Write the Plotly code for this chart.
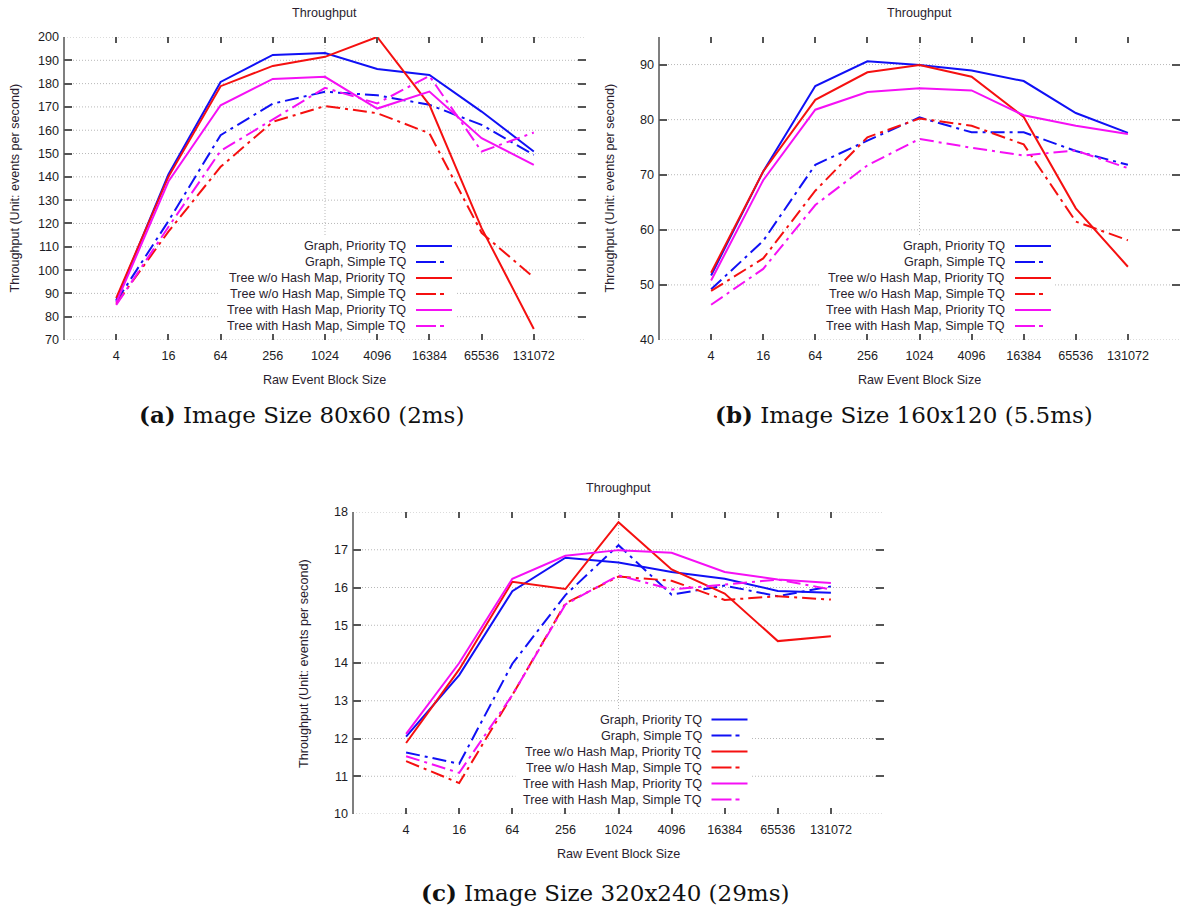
import plotly.graph_objects as go

# ---------------------------------------------------------------- data
block_sizes = ["4", "16", "64", "256", "1024", "4096", "16384", "65536", "131072"]

series_names = [
    "Graph, Priority TQ",
    "Graph, Simple TQ",
    "Tree w/o Hash Map, Priority TQ",
    "Tree w/o Hash Map, Simple TQ",
    "Tree with Hash Map, Priority TQ",
    "Tree with Hash Map, Simple TQ",
]

# (a) Image Size 80x60
a_graph_priority = [87, 141, 180.7, 192.3, 193.1, 186.3, 183.7, 168.0, 150.9]
a_graph_simple = [86.5, 121, 157.9, 171.4, 176.5, 175.0, 170.9, 162.3, 149.4]
a_tree_nohash_priority = [88, 140, 178.9, 187.6, 191.5, 200.0, 170.9, 118.0, 74.7]
a_tree_nohash_simple = [85.5, 116.5, 144.3, 163.6, 170.4, 167.3, 158.7, 116.0, 96.8]
a_tree_hash_priority = [86, 138, 170.7, 182.0, 182.9, 169.3, 176.6, 156.6, 145.1]
a_tree_hash_simple = [85, 118.5, 151.1, 164.5, 178.2, 171.5, 183.3, 150.9, 159.0]

# (b) Image Size 160x120
b_graph_priority = [51.7, 70.6, 86.1, 90.6, 89.9, 88.9, 87.0, 81.2, 77.6]
b_graph_simple = [49.2, 58.0, 71.8, 76.2, 80.4, 77.7, 77.7, 74.3, 71.8]
b_tree_nohash_priority = [52.2, 70.6, 83.6, 88.6, 89.9, 87.8, 80.5, 63.9, 53.3]
b_tree_nohash_simple = [48.9, 54.8, 67.1, 76.8, 80.2, 78.9, 75.5, 61.5, 58.1]
b_tree_hash_priority = [50.8, 69.0, 81.8, 85.0, 85.7, 85.3, 80.8, 78.9, 77.4]
b_tree_hash_simple = [46.4, 52.9, 64.5, 71.7, 76.5, 74.9, 73.5, 74.4, 71.2]

# (c) Image Size 320x240
c_graph_priority = [12.05, 13.68, 15.90, 16.79, 16.66, 16.41, 16.23, 15.91, 15.86]
c_graph_simple = [11.63, 11.33, 13.98, 15.80, 17.12, 15.81, 16.05, 15.77, 16.03]
c_tree_nohash_priority = [11.88, 13.83, 16.15, 15.96, 17.73, 16.48, 15.84, 14.58, 14.71]
c_tree_nohash_simple = [11.40, 10.82, 13.15, 15.58, 16.29, 16.18, 15.67, 15.77, 15.68]
c_tree_hash_priority = [12.12, 14.00, 16.23, 16.84, 16.99, 16.92, 16.41, 16.21, 16.12]
c_tree_hash_simple = [11.53, 11.09, 13.15, 15.55, 16.32, 15.95, 16.08, 16.21, 15.95]

captions = [
    "<b>(a)</b> Image Size 80x60 (2ms)",
    "<b>(b)</b> Image Size 160x120 (5.5ms)",
    "<b>(c)</b> Image Size 320x240 (29ms)",
]

# ---------------------------------------------------------------- styling
W, H = 1182, 909
BLUE, RED, MAGENTA = "#1010f5", "#f51010", "#f510f5"
series_colors = [BLUE, BLUE, RED, RED, MAGENTA, MAGENTA]
DASHDOT = "14px,5px,3px,5px"
series_dash = ["solid", DASHDOT] * 3

SANS = "Liberation Sans, Arial, sans-serif"
SERIF = "DejaVu Serif, serif"
TEXT = "#2a1d2e"
TICKTEXT = "#1c1c24"
AXIS = "#555555"
GRID = "#b8b8b8"
GRIDDASH = "1px,2px"
SMALL = 12.6


def px(x):
    return x / W


def py(y):
    return 1 - y / H


# plot boxes in pixels: left, right, top, bottom; key anchor (label right edge, first row y)
panels = [
    dict(box=(64, 586, 37, 340), yrange=[70, 200], dtick=10, legend=(408, 246),
         data=[a_graph_priority, a_graph_simple, a_tree_nohash_priority,
               a_tree_nohash_simple, a_tree_hash_priority, a_tree_hash_simple],
         caption_xy=(301, 415)),
    dict(box=(659, 1180, 37, 340), yrange=[40, 95], dtick=10, legend=(1007, 246),
         data=[b_graph_priority, b_graph_simple, b_tree_nohash_priority,
               b_tree_nohash_simple, b_tree_hash_priority, b_tree_hash_simple],
         caption_xy=(904, 415)),
    dict(box=(353, 884, 512, 814), yrange=[10, 18], dtick=1, legend=(703.5, 719.5),
         data=[c_graph_priority, c_graph_simple, c_tree_nohash_priority,
               c_tree_nohash_simple, c_tree_hash_priority, c_tree_hash_simple],
         caption_xy=(605, 892)),
]

fig = go.Figure()
annotations = []
shapes = []

for i, p in enumerate(panels, start=1):
    sfx = "" if i == 1 else str(i)
    xref, yref = "x" + sfx, "y" + sfx
    left, right, top, bottom = p["box"]
    pw, ph = right - left, bottom - top
    y0, y1 = p["yrange"]
    step = p["dtick"]

    for name, vals, color, dash in zip(series_names, p["data"], series_colors, series_dash):
        fig.add_trace(go.Scatter(
            x=block_sizes, y=vals, name=name, mode="lines",
            line=dict(color=color, width=2, dash=dash),
            xaxis=xref, yaxis=yref, showlegend=False,
        ))

    fig.update_layout({
        "xaxis" + sfx: dict(
            domain=[px(left), px(right)], anchor=yref,
            type="category", categoryorder="array", categoryarray=block_sizes,
            range=[-1, 9], showgrid=False,
            ticks="inside", ticklen=6, tickwidth=1.5, tickcolor=AXIS,
            mirror="ticks", showline=False, zeroline=False, ticklabelstandoff=6,
            tickfont=dict(family=SANS, size=SMALL, color=TICKTEXT),
        ),
        "yaxis" + sfx: dict(
            domain=[py(bottom), py(top)], anchor=xref,
            range=p["yrange"], dtick=step, tick0=y0, showgrid=False,
            ticks="inside", ticklen=8, tickwidth=1.5, tickcolor=AXIS,
            mirror="ticks", showline=False, zeroline=False, ticklabelstandoff=4,
            tickfont=dict(family=SANS, size=SMALL, color=TICKTEXT),
        ),
    })

    # dotted grid at every tick, drawn beneath the series
    for cat in block_sizes:
        shapes.append(dict(type="line", xref=xref, yref=yref + " domain",
                           x0=cat, x1=cat, y0=0, y1=1, layer="below",
                           line=dict(color=GRID, width=1, dash=GRIDDASH)))
    v = y0
    while v <= y1 + 1e-9:
        shapes.append(dict(type="line", xref=xref + " domain", yref=yref,
                           x0=0, x1=1, y0=v, y1=v, layer="below",
                           line=dict(color=GRID, width=1, dash=GRIDDASH)))
        v += step

    # left border
    shapes.append(dict(type="line", xref=xref + " domain", yref=yref + " domain",
                       x0=0, x1=0, y0=0, y1=1, line=dict(color=AXIS, width=1.5),
                       layer="above"))

    # titles
    cx = (left + right) / 2
    annotations.append(dict(text="Throughput", x=px(cx), y=py(top - 24), xref="paper",
                            yref="paper", showarrow=False, xanchor="center",
                            yanchor="middle", font=dict(family=SANS, size=SMALL, color=TEXT)))
    annotations.append(dict(text="Raw Event Block Size", x=px(cx), y=py(bottom + 40),
                            xref="paper", yref="paper", showarrow=False,
                            xanchor="center", yanchor="middle",
                            font=dict(family=SANS, size=SMALL, color=TEXT)))
    annotations.append(dict(text="Throughput (Unit: events per second)",
                            x=px(left - 49), y=py((top + bottom) / 2), xref="paper",
                            yref="paper", showarrow=False, textangle=-90,
                            xanchor="center", yanchor="middle",
                            font=dict(family=SANS, size=SMALL, color=TEXT)))
    cxp, cyp = p["caption_xy"]
    annotations.append(dict(text=captions[i - 1], x=px(cxp), y=py(cyp), xref="paper",
                            yref="paper", showarrow=False, xanchor="center",
                            yanchor="middle", font=dict(family=SERIF, size=23, color="#111")))

    # key: opaque box over the grid, right-aligned labels, line samples to the right
    tx, ty0 = p["legend"]
    row = 16
    bx0, bx1 = tx - 188, tx + 48
    by0, by1 = ty0 - 9, ty0 + 5 * row + 9
    shapes.append(dict(type="rect", xref=xref + " domain", yref=yref + " domain",
                       x0=(bx0 - left) / pw, x1=(bx1 - left) / pw,
                       y0=(bottom - by1) / ph, y1=(bottom - by0) / ph,
                       fillcolor="white", line=dict(width=0), layer="below"))
    for k, (name, color, dash) in enumerate(zip(series_names, series_colors, series_dash)):
        yy = ty0 + k * row
        annotations.append(dict(text=name, x=px(tx), y=py(yy), xref="paper", yref="paper",
                                showarrow=False, xanchor="right", yanchor="middle",
                                font=dict(family=SANS, size=SMALL, color=TEXT)))
        if dash == "solid":
            x1s, d = tx + 44, "solid"
        else:
            x1s, d = tx + 36, "20px,4px,4px,8px"
        shapes.append(dict(type="line", xref="paper", yref="paper",
                           x0=px(tx + 8), x1=px(x1s), y0=py(yy), y1=py(yy),
                           line=dict(color=color, width=2, dash=d)))

fig.update_layout(
    width=W, height=H, margin=dict(l=0, r=0, t=0, b=0, autoexpand=False),
    paper_bgcolor="white", plot_bgcolor="white",
    annotations=annotations, shapes=shapes, showlegend=False,
)

fig.write_html("out.html")
